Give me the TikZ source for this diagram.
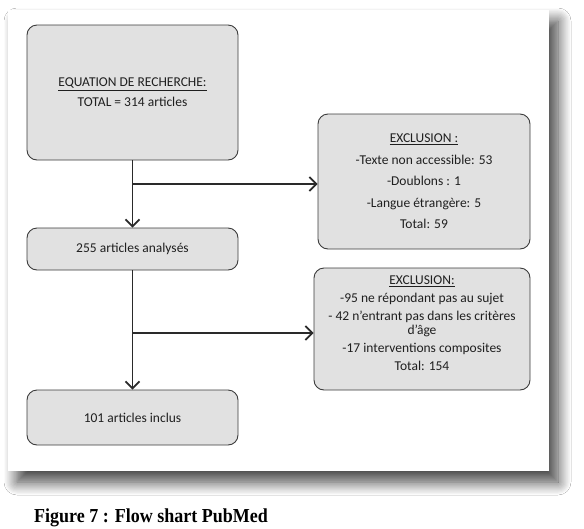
\documentclass[tikz,border=0pt]{standalone}
\usepackage{fontspec}
\setmainfont{Carlito}
\newfontfamily\capfont{Liberation Serif}
\usetikzlibrary{arrows.meta,shadows.blur}
\definecolor{boxfill}{HTML}{E1E1E1}
\definecolor{boxline}{HTML}{3C3C3C}
\definecolor{lnk}{HTML}{2A2A2A}
\tikzset{
  flowbox/.style={draw=boxline, line width=0.9pt, fill=boxfill, rounded corners=10pt,
    align=center, inner sep=0pt, text=black!88},
  boxtext/.style={align=center, inner sep=0pt, text=black!88},
  link/.style={draw=lnk, line width=1.4pt, -{Straight Barb[length=7pt,width=14pt,line width=1.8pt]}}
}
\begin{document}
\begin{tikzpicture}[x=1pt,y=-1pt]
\useasboundingbox (0,0) rectangle (584,528);
\fill[white] (0,0) rectangle (584,528);
\path[fill=white, blur shadow={shadow xshift=9pt, shadow yshift=-11pt, shadow blur radius=13pt, shadow opacity=75, shadow blur steps=12}] (8,10) rectangle (549,471);
\path[fill=white] (8,10) rectangle (549,471);

\node[flowbox, minimum width=211pt, minimum height=135pt, font=\fontsize{13.5}{20}\selectfont]
  (eq) at (132.5,92.5) {\underline{EQUATION DE RECHERCHE:}\\TOTAL = 314 articles};
\node[flowbox, minimum width=212pt, minimum height=135pt, font=\fontsize{13.5}{15}\selectfont]
  (ex1) at (424,181.5) {\underline{EXCLUSION :}\\[6.5pt]-Texte non accessible: 53\\[6.5pt]-Doublons : 1\\[6.5pt]-Langue étrangère: 5\\[6.5pt]Total: 59};
\node[flowbox, minimum width=211pt, minimum height=42pt, font=\fontsize{13.5}{15}\selectfont]
  (an) at (132.5,249) {255 articles analysés};
\node[flowbox, minimum width=216pt, minimum height=122pt] (ex2) at (422,329) {};
\node[boxtext, font=\fontsize{13.5}{13.5}\selectfont] (ex2t) at ([yshift=6pt]ex2.center)
  {\underline{EXCLUSION:}\\[4.5pt]-95 ne répondant pas au sujet\\[4.5pt]- 42 n’entrant pas dans les critères\\d’âge\\[4.5pt]-17 interventions composites\\[4.5pt]Total: 154};
\node[flowbox, minimum width=211pt, minimum height=55pt, font=\fontsize{13.5}{15}\selectfont]
  (inc) at (132.5,417.5) {101 articles inclus};

\coordinate (b1) at (eq.south |- 0,184);
\coordinate (b2) at (an.south |- 0,333);
\draw[link] (eq.south) -- (an.north);
\draw[link] (b1) -- (ex1.west |- b1);
\draw[link] (an.south) -- (inc.north);
\draw[link] (b2) -- (ex2.west |- b2);

\node[anchor=base west, inner sep=0pt, font=\capfont\bfseries\fontsize{18}{20}\selectfont] (cap) at (34,522) {\scalebox{1}[1.1]{Figure 7 : Flow shart PubMed}};
\end{tikzpicture}
\end{document}
